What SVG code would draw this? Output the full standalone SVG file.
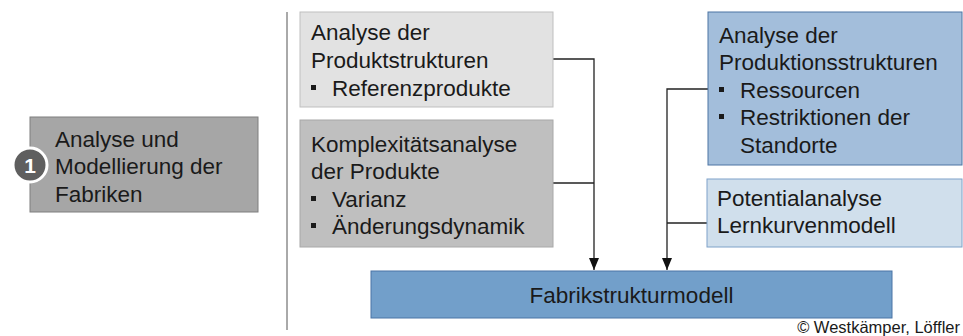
<svg xmlns="http://www.w3.org/2000/svg" width="963" height="336" viewBox="0 0 963 336">
<defs>
<style>
text{font-family:"Liberation Sans",Arial,sans-serif;font-size:22.5px;fill:#1a1a1a}
.c{stroke:#222;stroke-width:1.3;fill:none}
.b{fill:#1a1a1a}
</style>
<marker id="ah" viewBox="0 0 12 10" refX="12" refY="5" markerWidth="12" markerHeight="10" markerUnits="userSpaceOnUse" orient="auto">
<path d="M0,0 L12,5 L0,10 Z" fill="#111"/>
</marker>
</defs>
<rect width="963" height="336" fill="#fff"/>
<line x1="287" y1="12" x2="287" y2="330" stroke="#555" stroke-width="1"/>
<g id="connectors">
<path class="c" d="M553,59 H594 V270" marker-end="url(#ah)"/>
<path class="c" d="M553,183 H594"/>
<path class="c" d="M708,89 H667 V270" marker-end="url(#ah)"/>
<path class="c" d="M707,223 H667"/>
</g>
<g id="fabriken">
<rect x="30" y="117" width="228" height="95" fill="#a6a6a6" stroke="#7f7f7f" stroke-width="1"/>
<text x="55" y="147">Analyse und</text>
<text x="55" y="174">Modellierung der</text>
<text x="55" y="202">Fabriken</text>
<circle cx="30" cy="165" r="17" fill="#5f5f5f" stroke="#fff" stroke-width="3"/>
<text x="30" y="172.5" text-anchor="middle" style="font-size:21px;font-weight:bold;fill:#fff">1</text>
</g>
<g id="produktstrukturen">
<rect x="300" y="12" width="253" height="95" fill="#e2e2e2" stroke="#bfbfbf" stroke-width="1"/>
<text x="311" y="40">Analyse der</text>
<text x="311" y="68">Produktstrukturen</text>
<rect class="b" x="311" y="85" width="5" height="5"/>
<text x="332" y="96">Referenzprodukte</text>
</g>
<g id="komplexitaet">
<rect x="300" y="120" width="253" height="127" fill="#bfbfbf" stroke="#a8a8a8" stroke-width="1"/>
<text x="311" y="152">Komplexitätsanalyse</text>
<text x="311" y="179">der Produkte</text>
<rect class="b" x="311" y="196" width="5" height="5"/>
<text x="332" y="207">Varianz</text>
<rect class="b" x="311" y="223" width="5" height="5"/>
<text x="332" y="234">Änderungsdynamik</text>
</g>
<g id="produktionsstrukturen">
<rect x="708" y="12" width="254" height="153" fill="#a3bedb" stroke="#4d74a3" stroke-width="1"/>
<text x="719" y="43">Analyse der</text>
<text x="719" y="70">Produktionsstrukturen</text>
<rect class="b" x="719" y="87" width="5" height="5"/>
<text x="740" y="98">Ressourcen</text>
<rect class="b" x="719" y="114" width="5" height="5"/>
<text x="740" y="125">Restriktionen der</text>
<text x="740" y="153">Standorte</text>
</g>
<g id="potentialanalyse">
<rect x="707" y="179" width="255" height="68" fill="#d0dfec" stroke="#7fa2c9" stroke-width="1"/>
<text x="717" y="206">Potentialanalyse</text>
<text x="717" y="233">Lernkurvenmodell</text>
</g>
<g id="fabrikstrukturmodell">
<rect x="371" y="271" width="521" height="47" fill="#729fca" stroke="#4a74a6" stroke-width="1"/>
<text x="631.5" y="303" text-anchor="middle">Fabrikstrukturmodell</text>
</g>
<text x="960" y="333" text-anchor="end" style="font-size:16.5px">© Westkämper, Löffler</text>
</svg>
